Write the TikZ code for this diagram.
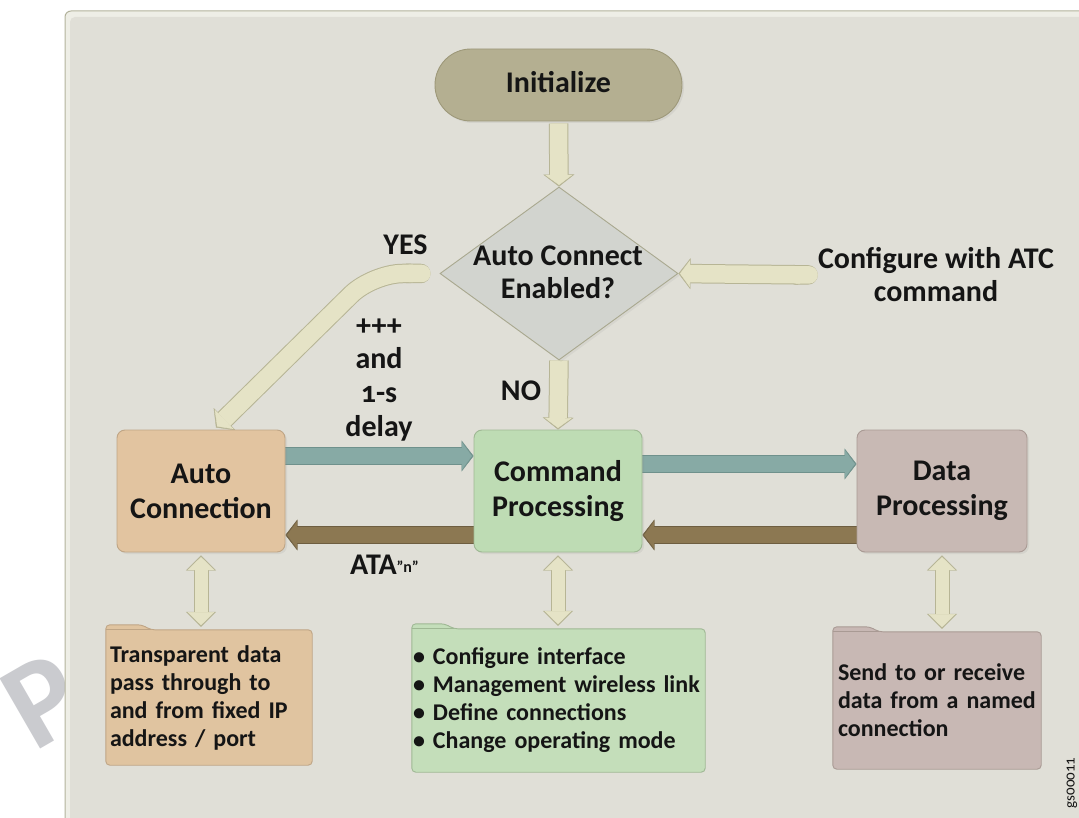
\documentclass[tikz,border=0pt]{standalone}
\usepackage{fontspec}
\setmainfont{Carlito}[Numbers=OldStyle]
\newfontfamily\folderfont{Carlito}[Numbers=OldStyle, WordSpace=0.8]
\usetikzlibrary{arrows.meta,shapes.geometric,calc,shadows}
\pgfdeclarelayer{back}
\pgfsetlayers{back,main}
\definecolor{bgC}{HTML}{E0DFD7}
\definecolor{frameL}{HTML}{EEEEE6}
\definecolor{frameB}{HTML}{B3B39C}
\definecolor{txt}{HTML}{151515}
\definecolor{initF}{HTML}{B4AF91}
\definecolor{initB}{HTML}{9D9879}
\definecolor{diaF}{HTML}{D2D4CF}
\definecolor{diaB}{HTML}{A9A88F}
\definecolor{creamF}{HTML}{E5E3C6}
\definecolor{creamB}{HTML}{B7B595}
\definecolor{autoF}{HTML}{E2C4A0}
\definecolor{autoB}{HTML}{BFA585}
\definecolor{cmdF}{HTML}{BEDCB4}
\definecolor{cmdB}{HTML}{9FB894}
\definecolor{dataF}{HTML}{C8B9B4}
\definecolor{dataB}{HTML}{A99A94}
\definecolor{tealF}{HTML}{87AAA5}
\definecolor{tealB}{HTML}{6F918C}
\definecolor{brownF}{HTML}{8C7852}
\definecolor{brownB}{HTML}{6E5E40}
\definecolor{f1F}{HTML}{E0C4A0}
\definecolor{f2F}{HTML}{C4DEBA}
\definecolor{f3F}{HTML}{C8B8B4}
\definecolor{wmC}{HTML}{CACBCF}
\newcommand\twice[3]{\draw[#1] #3; \draw[#2] #3;}
\newcommand\folderbg[4]{%
  \filldraw[fill=#2, draw=#3, line width=0.9pt, rounded corners=4pt]
    ($(#1.north west)+(0,10)$) -- ($(#1.north west)+(0,-5)$) -- ($(#1.north west)+(#4,-5)$)
    -- ($(#1.north west)+(#4+9,0)$) -- (#1.north east) -- (#1.south east) -- (#1.south west) -- cycle;
  \draw[#3, line width=0.8pt] (#1.north west) -- ($(#1.north west)+(#4+9,0)$);}
\begin{document}
\begin{tikzpicture}[x=1pt,y=-1pt,
  lbl/.style={inner sep=0pt, text=txt, font=\bfseries\fontsize{30}{33}\selectfont},
  box/.style={rectangle, rounded corners=8pt, minimum width=168pt, minimum height=122pt,
    align=center, line width=0.9pt, inner sep=0pt, text=txt,
    font=\bfseries\fontsize{30}{35}\selectfont,
    drop shadow={shadow xshift=2pt, shadow yshift=-2pt, opacity=0.12}},
  folder/.style={rectangle, inner ysep=0pt, align=left, text=txt,
    font=\folderfont\bfseries\fontsize{24}{28}\selectfont},
  creamO/.style={draw=creamB, line width=19.5pt},
  creamI/.style={draw=creamF, line width=17.5pt},
  tealO/.style={draw=tealB, line width=18.5pt},
  tealI/.style={draw=tealF, line width=16.5pt},
  brownO/.style={draw=brownB, line width=18.5pt},
  brownI/.style={draw=brownF, line width=16.5pt},
  dblO/.style={draw=creamB, line width=15pt},
  dblI/.style={draw=creamF, line width=13pt},
  headO/.style={-{Triangle[length=12pt,width=31pt,line width=0.4pt]}},
  headI/.style={-{Triangle[length=10pt,width=27pt,line width=0.4pt]}, shorten >=1.6pt},
  capO/.style={{Round Cap[]}-{Triangle[length=12pt,width=31pt,line width=0.4pt]}},
  capI/.style={{Round Cap[]}-{Triangle[length=10pt,width=27pt,line width=0.4pt]}, shorten >=1.6pt},
  dblhO/.style={{Triangle[length=15pt,width=30pt,line width=0.4pt]}-{Triangle[length=15pt,width=30pt,line width=0.4pt]}},
  dblhI/.style={{Triangle[length=13pt,width=26.5pt,line width=0.4pt]}-{Triangle[length=13pt,width=26.5pt,line width=0.4pt]}, shorten >=1.6pt, shorten <=1.6pt}
]
\useasboundingbox (0,0) rectangle (1079,818);
\begin{pgfonlayer}{back}
  \clip (0,0) rectangle (1079,818);
  \fill[white] (0,0) rectangle (1079,818);
  \node[anchor=base west, rotate=30, inner sep=0pt, text=wmC,
        font=\bfseries\fontsize{125}{125}\selectfont] (wm) at (34,753) {P};
  \draw[draw=frameB, fill=frameL, line width=1pt, rounded corners=6pt] (65,11) rectangle (1130,870);
  \fill[bgC, rounded corners=5pt] (70,17) rectangle (1130,870);
\end{pgfonlayer}

% main nodes
\node[rectangle, rounded corners=35.9pt, minimum width=247pt, minimum height=72pt,
      fill=initF, draw=initB, line width=0.9pt, text=txt, inner sep=0pt,
      text height=20pt, text depth=4pt,
      font=\bfseries\fontsize{30}{33}\selectfont,
      drop shadow={shadow xshift=2pt, shadow yshift=-2pt, opacity=0.12}] (init) at (558.5,85) {Initialize};
\node[diamond, minimum width=238pt, minimum height=173pt, inner sep=0pt,
      fill=diaF, draw=diaB, line width=0.9pt,
      drop shadow={shadow xshift=2pt, shadow yshift=-2pt, opacity=0.10}] (dia) at (559,273.5) {};
\node[lbl, align=center] (diatxt) at (558,272) {Auto Connect\\Enabled?};

\node[box, fill=autoF, draw=autoB] (auto) at (201,491) {Auto\\Connection};
\node[box, fill=cmdF, draw=cmdB] (cmd) at (558,491) {Command\\Processing};
\node[box, fill=dataF, draw=dataB, minimum width=170pt] (data) at (942,491) {Data\\Processing};

\node[lbl, anchor=base] (yes) at (405.5,255) {YES};
\node[lbl, anchor=base] (no) at (521,400) {NO};
\node[lbl, anchor=base] (d1) at (379,335) {+++};
\node[lbl, anchor=base] (d2) at (379,368) {and};
\node[lbl, anchor=base] (d3) at (379,402) {1-s};
\node[lbl, anchor=base] (d4) at (379,436) {delay};
\node[lbl, align=center] (cfg) at (936,275) {Configure with ATC\\command};
\node[lbl, anchor=base west] (ata) at (350,574)
  {ATA\raisebox{2pt}{\fontsize{16}{16}\selectfont\symbol{"22}n\symbol{"22}}};

\node[folder, inner xsep=4pt, text width=198pt, minimum height=135pt] (f1) at (209,697.5)
  {Transparent data\\pass through to\\and from fixed IP\\address / port};
\node[folder, inner xsep=1pt, text width=291pt, minimum height=143pt] (f2) at (558.5,700.5)
  {\makebox[20pt][l]{\textbullet}Configure interface\\
   \makebox[20pt][l]{\textbullet}Management wireless link\\
   \makebox[20pt][l]{\textbullet}Define connections\\
   \makebox[20pt][l]{\textbullet}Change operating mode};
\node[folder, inner xsep=5pt, text width=198pt, minimum height=137pt] (f3) at (937,700.5)
  {Send to or receive\\data from a named\\connection};

\node[rotate=90, inner sep=0pt, text=txt, font=\mdseries\fontsize{15}{15}\selectfont] (gs) at (1072,783) {gs00011};

% background shapes and connectors
\begin{pgfonlayer}{back}
  \folderbg{f1}{f1F}{autoB}{36}
  \folderbg{f2}{f2F}{cmdB}{33}
  \folderbg{f3}{f3F}{dataB}{37}

  \twice{creamO,headO}{creamI,headI}{($(init.south)+(0,2)$) -- (dia.north)}
  \twice{creamO,headO}{creamI,headI}{(dia.south) -- (cmd.north)}
  \twice{creamO,capO,rounded corners=30pt}{creamI,capI,rounded corners=30pt}
        {($(dia.west)+(-9,0)$) -- ++(-58,0) -- ($(auto.north)+(15,-2)$)}
  \twice{creamO,capO}{creamI,capI}{(cfg.west) -- (dia.east)}

  \twice{tealO,headO}{tealI,headI}{($(auto.east)+(0,-35)$) -- ($(cmd.west)+(0,-35)$)}
  \twice{tealO,headO}{tealI,headI}{($(cmd.east)+(0,-27)$) -- ($(data.west)+(0,-27)$)}
  \twice{brownO,headO}{brownI,headI}{($(cmd.west)+(0,44)$) -- ($(auto.east)+(0,44)$)}
  \twice{brownO,headO}{brownI,headI}{($(data.west)+(0,44)$) -- ($(cmd.east)+(0,44)$)}

  \twice{dblO,dblhO}{dblI,dblhI}{($(auto.south)+(0,3)$) -- ($(auto.south |- f1.north)+(0,-3)$)}
  \twice{dblO,dblhO}{dblI,dblhI}{($(cmd.south)+(0,3)$) -- ($(cmd.south |- f2.north)+(0,-3)$)}
  \twice{dblO,dblhO}{dblI,dblhI}{($(data.south)+(0,3)$) -- ($(data.south |- f3.north)+(0,-3)$)}
\end{pgfonlayer}
\end{tikzpicture}
\end{document}
